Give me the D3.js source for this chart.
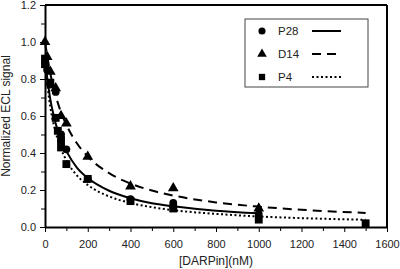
<!DOCTYPE html>
<html>
<head>
<meta charset="utf-8">
<script src="https://cdn.jsdelivr.net/npm/d3@7"></script>
<style>
  body { margin: 0; background: #fff; }
  text { font-family: "Liberation Sans", Arial, sans-serif; fill: #222; }
</style>
</head>
<body>
<div id="chart"></div>
<script>
// measured points
const p28X = [0, 10, 25, 50, 75, 100, 200, 400, 600, 600, 1000];
const p28Y = [0.89, 0.85, 0.77, 0.73, 0.50, 0.42, 0.26, 0.15, 0.13, 0.11, 0.07];
const d14X = [0, 10, 25, 50, 75, 100, 200, 400, 600, 1000];
const d14Y = [1.0, 0.92, 0.84, 0.75, 0.60, 0.56, 0.38, 0.22, 0.21, 0.10];
const p4X = [0, 0, 25, 50, 60, 75, 75, 100, 200, 400, 600, 1000, 1500];
const p4Y = [0.88, 0.91, 0.78, 0.59, 0.52, 0.47, 0.43, 0.34, 0.26, 0.14, 0.10, 0.04, 0.02];

// fitted curves
const fitP28X = [0, 25, 50, 75, 100, 150, 200, 300, 400, 500, 600, 800, 1000];
const fitP28Y = [0.90, 0.69, 0.56, 0.47, 0.41, 0.32, 0.265, 0.196, 0.155, 0.128, 0.112, 0.088, 0.074];
const fitD14X = [0, 25, 50, 75, 100, 150, 200, 300, 400, 500, 600, 800, 1000, 1200, 1500];
const fitD14Y = [1.0, 0.83, 0.71, 0.62, 0.552, 0.451, 0.381, 0.291, 0.235, 0.197, 0.17, 0.133, 0.11, 0.093, 0.076];
const fitP4X = [0, 25, 50, 75, 100, 150, 200, 300, 400, 500, 600, 800, 1000, 1200, 1500];
const fitP4Y = [0.88, 0.647, 0.512, 0.423, 0.36, 0.278, 0.227, 0.165, 0.13, 0.107, 0.091, 0.071, 0.057, 0.048, 0.039];

const xTicks = [0, 200, 400, 600, 800, 1000, 1200, 1400, 1600];
const yTicks = [0, 0.2, 0.4, 0.6, 0.8, 1.0, 1.2];
const seriesNames = ["P28", "D14", "P4"];

const margin = { top: 5, right: 13, bottom: 42, left: 45 };
const width = 400 - margin.left - margin.right;
const height = 269 - margin.top - margin.bottom;

const svg = d3.select("#chart").append("svg")
  .attr("width", 400)
  .attr("height", 269);
const g = svg.append("g")
  .attr("transform", `translate(${margin.left},${margin.top})`);

const x = d3.scaleLinear().domain([0, 1600]).range([0, width]);
const y = d3.scaleLinear().domain([0, 1.2]).range([height, 0]);

// minor ticks
g.append("g")
  .attr("transform", `translate(0,${height})`)
  .call(d3.axisBottom(x).tickValues(d3.range(100, 1600, 200)).tickSize(4).tickFormat(""))
  .call(a => a.select(".domain").remove());
g.append("g")
  .call(d3.axisLeft(y).tickValues(d3.range(0.1, 1.2, 0.2)).tickSize(4).tickFormat(""))
  .call(a => a.select(".domain").remove());

const xAxis = g.append("g")
  .attr("transform", `translate(0,${height})`)
  .call(d3.axisBottom(x).tickValues(xTicks).tickSize(5).tickSizeOuter(0).tickPadding(8)
    .tickFormat(d3.format("d")));
const yAxis = g.append("g")
  .call(d3.axisLeft(y).tickValues(yTicks).tickSize(5).tickSizeOuter(0).tickPadding(4)
    .tickFormat(d3.format(".1f")));

[xAxis, yAxis].forEach(a => {
  a.selectAll("text").style("font-size", "11px").attr("fill", "#222");
  a.select(".domain").attr("stroke-width", 2);
});
g.selectAll(".tick line").attr("stroke", "#000").attr("stroke-width", 1);

// top and right frame
g.append("line").attr("x1", 0).attr("x2", width).attr("y1", 0).attr("y2", 0)
  .attr("stroke", "#000").attr("stroke-width", 2);
g.append("line").attr("x1", width).attr("x2", width).attr("y1", 0).attr("y2", height)
  .attr("stroke", "#000").attr("stroke-width", 2);

// fitted curves
const line = d3.line()
  .x(d => x(d[0]))
  .y(d => y(d[1]))
  .curve(d3.curveMonotoneX);

const curves = [
  { xs: fitP28X, ys: fitP28Y, dash: null },
  { xs: fitD14X, ys: fitD14Y, dash: "9,6" },
  { xs: fitP4X, ys: fitP4Y, dash: "2,2.5" }
];
curves.forEach(c => {
  g.append("path")
    .datum(c.xs.map((v, i) => [v, c.ys[i]]))
    .attr("fill", "none")
    .attr("stroke", "#000")
    .attr("stroke-width", 2)
    .attr("stroke-dasharray", c.dash)
    .attr("d", line);
});

// markers
const sym = {
  P28: d3.symbol().type(d3.symbolCircle).size(48),
  D14: d3.symbol().type(d3.symbolTriangle).size(50),
  P4: d3.symbol().type(d3.symbolSquare).size(62)
};
const pts = [
  { name: "P4", xs: p4X, ys: p4Y },
  { name: "P28", xs: p28X, ys: p28Y },
  { name: "D14", xs: d14X, ys: d14Y }
];
pts.forEach(s => {
  g.selectAll(null)
    .data(s.xs.map((v, i) => [v, s.ys[i]]))
    .enter().append("path")
    .attr("d", sym[s.name]())
    .attr("transform", d => `translate(${x(d[0])},${y(d[1])})`)
    .attr("fill", "#000");
});

// legend
const legend = svg.append("g").attr("transform", "translate(245,19)");
legend.append("rect")
  .attr("width", 123).attr("height", 68)
  .attr("fill", "#fff").attr("stroke", "#444").attr("stroke-width", 1);
const dashes = { P28: null, D14: "9,6", P4: "2,2.5" };
seriesNames.forEach((name, i) => {
  const ry = 12 + i * 23;
  legend.append("path")
    .attr("d", d3.symbol().type(sym[name].type()).size(40)())
    .attr("transform", `translate(17,${ry})`)
    .attr("fill", "#000");
  legend.append("text")
    .attr("x", 33).attr("y", ry + 4)
    .style("font-size", "11.5px")
    .text(name);
  legend.append("line")
    .attr("x1", 67).attr("x2", 96).attr("y1", ry).attr("y2", ry)
    .attr("stroke", "#000").attr("stroke-width", 2)
    .attr("stroke-dasharray", dashes[name]);
});

// axis titles
svg.append("text")
  .attr("text-anchor", "middle")
  .attr("x", margin.left + x(800))
  .attr("y", 265)
  .style("font-size", "12px")
  .text("[DARPin](nM)");
svg.append("text")
  .attr("text-anchor", "middle")
  .attr("transform", `translate(10,${margin.top + y(0.6)}) rotate(-90)`)
  .style("font-size", "12px")
  .text("Normalized ECL signal");
</script>
</body>
</html>
